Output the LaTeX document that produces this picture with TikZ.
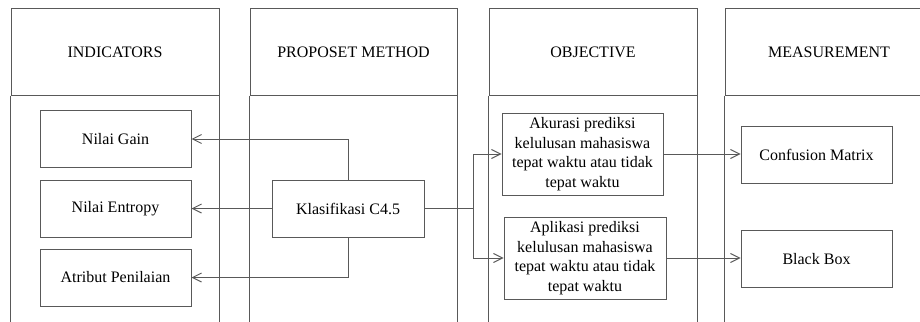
\documentclass[tikz,border=0pt]{standalone}
\usepackage{fontspec}
\setmainfont{Liberation Serif}
\usetikzlibrary{arrows.meta}

\begin{document}
\begin{tikzpicture}[x=1pt, y=-1pt, ->, >={Straight Barb[length=9pt,width=9pt]}, line width=1pt, draw=black!65, text=black, font=\fontsize{16}{19.5}\selectfont]
			\tikzstyle{every node}=[draw=black!65, rectangle, align=center]
			\tikzstyle{head}=[minimum width=208pt, minimum height=86pt, inner sep=0pt]
			\tikzstyle{item}=[minimum width=151pt, minimum height=57pt, inner sep=2pt]
			\clip (0,0) rectangle (920,321);
			% column headers
			\node[head] (INDICATORS) at (115,52) {INDICATORS};
			\node[head, minimum width=207pt] (METHOD) at (353.5,52) {PROPOSET METHOD};
			\node[head] (OBJECTIVE) at (593,52) {OBJECTIVE};
			\node[head] (MEASURE) at (829,52) {MEASUREMENT};
			\foreach \col in {INDICATORS, METHOD, OBJECTIVE, MEASURE}
				\draw[-] (\col.south west) -- ++(0,240) (\col.south east) -- ++(0,240);
			% boxes
			\node[item] (GAIN) at (115.5,139) {Nilai Gain};
			\node[item] (ENTROPY) at (115.5,208.5) {Nilai Entropy};
			\node[item] (ATRIBUT) at (115.5,277.5) {Atribut Penilaian};
			\node[item, minimum width=152pt] (C45) at (348,208.5) {Klasifikasi C4.5};
			\node[item, minimum width=161pt, minimum height=82pt] (AKURASI) at (582.5,154) {Akurasi prediksi\\kelulusan mahasiswa\\tepat waktu atau tidak\\tepat waktu};
			\node[item, minimum width=162pt, minimum height=82pt] (APLIKASI) at (585,258) {Aplikasi prediksi\\kelulusan mahasiswa\\tepat waktu atau tidak\\tepat waktu};
			\node[item] (CONFUSION) at (816.5,154.5) {Confusion Matrix};
			\node[item] (BLACKBOX) at (816.5,259) {Black Box};
			\coordinate (SPLIT) at (473,208.5);
			% connectors
			\draw (C45.north) |- (GAIN.east);
			\draw (C45.west) -- (ENTROPY.east);
			\draw (C45.south) |- (ATRIBUT.east);
			\draw[-] (C45.east) -- (SPLIT);
			\draw (SPLIT) |- (AKURASI.west);
			\draw (SPLIT) |- (APLIKASI.west);
			\draw (AKURASI.east) -- (AKURASI.east -| CONFUSION.west);
			\draw (APLIKASI.east) -- (APLIKASI.east -| BLACKBOX.west);
		\end{tikzpicture}
\end{document}
